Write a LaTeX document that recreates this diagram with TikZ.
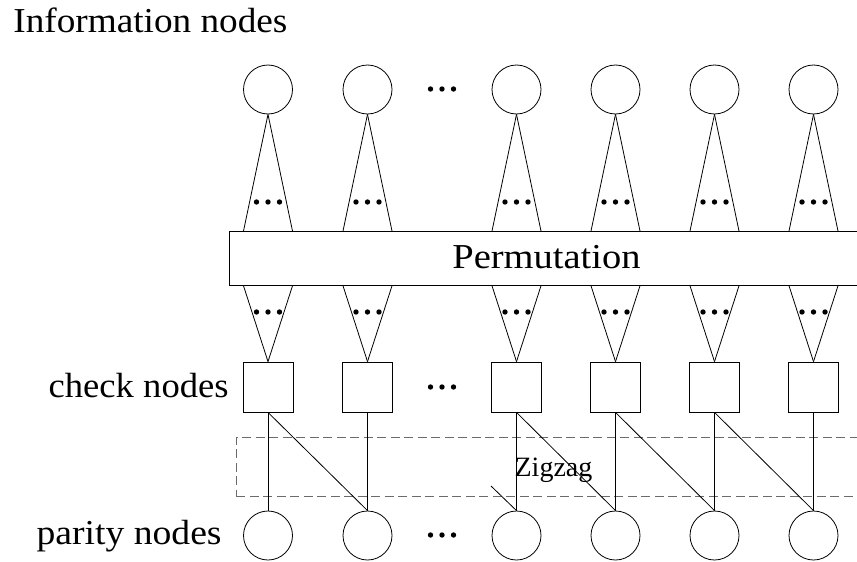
\documentclass[tikz,border=0pt]{standalone}
\usepackage{fontspec}
\setmainfont{Liberation Serif}
\usetikzlibrary{calc}
\definecolor{zzgray}{gray}{0.42}
\begin{document}
\begin{tikzpicture}[x=1pt,y=-1pt,line width=0.8pt,
  vnode/.style={circle,draw,minimum size=49pt,inner sep=0pt},
  cnode/.style={rectangle,draw,minimum size=50pt,inner sep=0pt},
  biglabel/.style={font=\fontsize{35}{40}\selectfont,inner sep=0pt},
  smalllabel/.style={font=\fontsize{28}{32}\selectfont,inner sep=0pt},
  dotmark/.style={fill=black,draw=none}]
\useasboundingbox (0,0) rectangle (857,562);
\clip (0,0) rectangle (857,562);

% three filled dots centred on a point
\newcommand{\tridots}[1]{%
  \foreach \dx in {-11.5,0,11.5}{\fill[dotmark] ($(#1)+(\dx,0)$) circle (2.7pt);}}

% permutation block and zigzag region
\node[draw,anchor=north west,minimum width=680pt,minimum height=54pt,inner sep=0pt] (perm) at (229,231) {};
\node[biglabel,anchor=base] (permtext) at (546.5,268) {\scalebox{1.10}[1]{Permutation}};
\node[draw=zzgray,dash pattern=on 9pt off 4.5pt,anchor=north west,minimum width=680pt,minimum height=59pt,inner sep=0pt] (zz) at (236,437) {};
\node[smalllabel,anchor=base] (zztext) at (553.5,476) {Zigzag};

% columns of information, check and parity nodes
\foreach \k/\X in {1/268,2/367.5,3/516.5,4/615.5,5/714.5,6/813.5}{
  \node[vnode] (i\k) at (\X,89.5) {};
  \node[cnode] (c\k) at (\X,387) {};
  \node[vnode] (p\k) at (\X,535.5) {};
  % fan-out from information node into the permutation
  \draw (i\k.south) -- ($(i\k.south |- perm.north)+(-24.5,0)$);
  \draw (i\k.south) -- ($(i\k.south |- perm.north)+(24.5,0)$);
  % fan-in from the permutation into the check node
  \draw (c\k.north) -- ($(c\k.north |- perm.south)+(-24.5,0)$);
  \draw (c\k.north) -- ($(c\k.north |- perm.south)+(24.5,0)$);
  \coordinate (ud\k) at (\X,202);
  \coordinate (ld\k) at (\X,312);
  \tridots{ud\k}
  \tridots{ld\k}
  % check to parity, straight down
  \draw (c\k.south) -- (p\k.north);
}

% zigzag diagonals
\draw (c1.south) -- (p2.north);
\draw (c3.south) -- (p4.north);
\draw (c4.south) -- (p5.north);
\draw (c5.south) -- (p6.north);
\coordinate (stub) at (491,486);
\draw (stub) -- (p3.north);

% gap markers between the second and third columns
\coordinate (gapi) at (442,89);
\coordinate (gapc) at (442,387);
\coordinate (gapp) at (442,535);
\tridots{gapi}
\tridots{gapc}
\tridots{gapp}

% row labels
\node[biglabel,anchor=base west] (infolabel) at (13,32) {\scalebox{1.064}[1]{Information nodes}};
\node[biglabel,anchor=base east] (checklabel) at (229,397) {\scalebox{1.046}[1]{check nodes}};
\node[biglabel,anchor=base east] (paritylabel) at (222,544) {\scalebox{1.075}[1]{parity nodes}};
\end{tikzpicture}
\end{document}
